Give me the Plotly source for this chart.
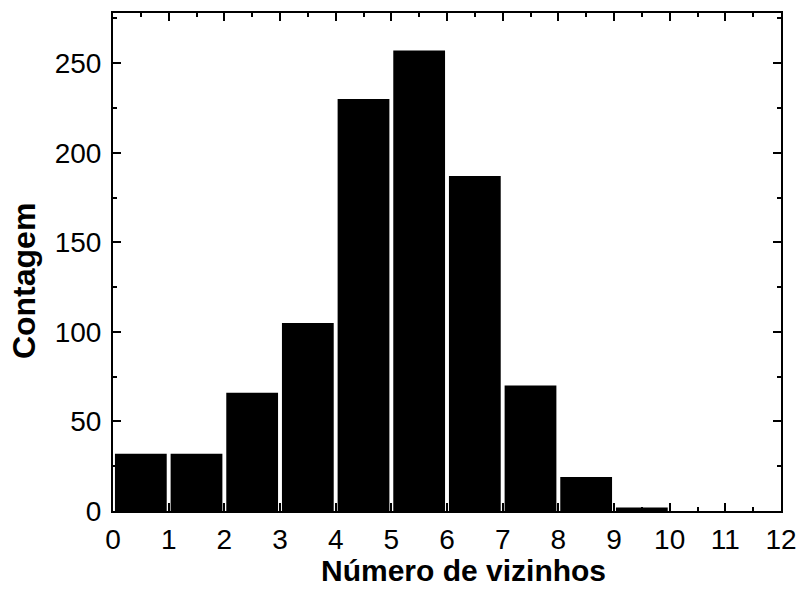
import plotly.graph_objects as go

# Histogram of neighbour counts (bins of width 1)
bin_left = [0, 1, 2, 3, 4, 5, 6, 7, 8, 9, 10, 11]
counts = [32, 32, 66, 105, 230, 257, 187, 70, 19, 2, 0, 0]
x_ticks = list(range(0, 13))
y_ticks = [0, 50, 100, 150, 200, 250]

bin_centers = [b + 0.5 for b in bin_left]

fig = go.Figure(
    go.Bar(
        x=bin_centers,
        y=counts,
        marker=dict(color="black", line=dict(width=0)),
    )
)

axis_common = dict(
    showline=True,
    linecolor="black",
    linewidth=2,
    mirror="ticks",
    ticks="inside",
    tickcolor="black",
    tickwidth=2,
    ticklen=8,
    showgrid=False,
    zeroline=False,
    tickfont=dict(family="Liberation Sans, Arial", size=28, color="black"),
)

fig.update_xaxes(
    range=[0, 12],
    tickvals=x_ticks,
    ticktext=[str(v) for v in x_ticks],
    minor=dict(ticks="inside", ticklen=4, tickwidth=2, tickcolor="black", dtick=0.5, tick0=0),
    ticklabelstandoff=2,
    **axis_common,
)
fig.update_yaxes(
    range=[0, 278],
    tickvals=y_ticks,
    ticktext=[str(v) for v in y_ticks],
    minor=dict(ticks="inside", ticklen=4, tickwidth=2, tickcolor="black", dtick=25, tick0=0),
    ticklabelstandoff=4,
    **axis_common,
)

title_font = dict(family="Liberation Sans, Arial", size=30, color="black")

# Axis titles
fig.add_annotation(
    text="<b>Número de vizinhos</b>", xref="paper", yref="paper",
    x=0.524, y=-0.156, xanchor="center", yanchor="bottom",
    showarrow=False, font=title_font,
)
fig.add_annotation(
    text="<b>Contagem</b>", xref="paper", yref="paper",
    x=-0.133, y=0.462, xanchor="center", yanchor="middle", textangle=-90,
    showarrow=False, font=dict(title_font, size=32),
)

fig.update_layout(
    width=808,
    height=590,
    margin=dict(l=113, r=18, t=11, b=79),
    bargap=0.07,
    plot_bgcolor="white",
    paper_bgcolor="white",
    showlegend=False,
)

fig.write_html("out.html")
